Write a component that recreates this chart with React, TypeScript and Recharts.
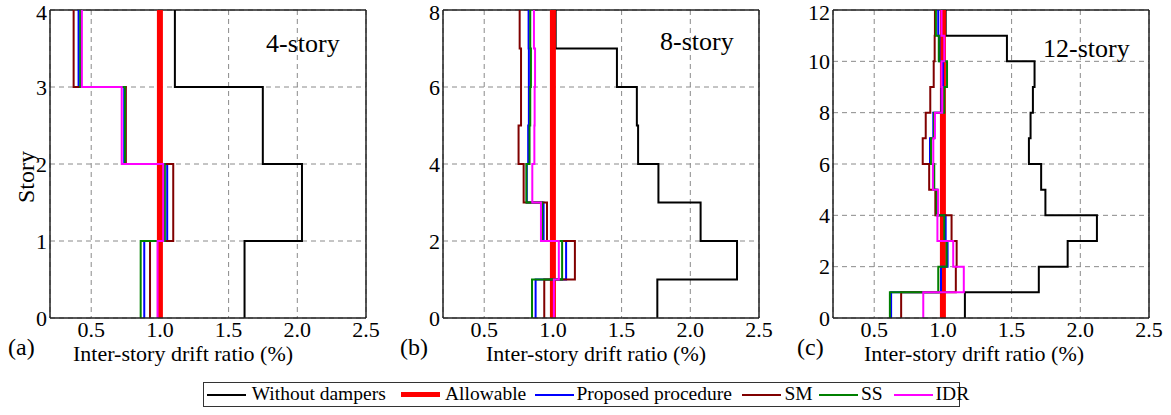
import React from "react";
import { LineChart, Line, XAxis, YAxis, CartesianGrid, ReferenceLine } from "recharts";

const FONT = '"Liberation Serif", "Times New Roman", serif';

const xTicks = [0.5, 1.0, 1.5, 2.0, 2.5];
const allowableRatio = 1.0;

// inter-story drift ratio (%), story 1 first
const without4 = [1.616, 2.034, 1.749, 1.109];
const proposed4 = [0.886, 1.053, 0.74, 0.408];
const sm4 = [0.928, 1.097, 0.752, 0.372];
const ss4 = [0.86, 1.036, 0.746, 0.42];
const idr4 = [0.983, 1.024, 0.722, 0.432];

const without8 = [1.76, 2.34, 2.075, 1.768, 1.62, 1.611, 1.466, 1.02];
const proposed8 = [0.874, 1.096, 0.932, 0.81, 0.82, 0.825, 0.825, 0.823];
const sm8 = [0.937, 1.16, 0.957, 0.787, 0.75, 0.768, 0.768, 0.758];
const ss8 = [0.848, 1.067, 0.922, 0.807, 0.83, 0.835, 0.84, 0.835];
const idr8 = [1.007, 1.043, 0.913, 0.85, 0.865, 0.867, 0.87, 0.862];

const without12 = [1.16, 1.698, 1.908, 2.121, 1.746, 1.715, 1.626, 1.638, 1.655, 1.667, 1.466, 1.02];
const proposed12 = [0.623, 0.986, 1.034, 1.02, 0.96, 0.93, 0.906, 0.93, 0.99, 1.0, 0.975, 0.966];
const sm12 = [0.696, 1.094, 1.1, 1.063, 0.945, 0.9, 0.853, 0.875, 0.908, 0.933, 0.94, 0.942];
const ss12 = [0.614, 0.966, 1.027, 1.01, 0.955, 0.937, 0.913, 0.935, 1.01, 1.03, 0.97, 0.949];
const idr12 = [0.857, 1.152, 1.075, 0.96, 0.965, 0.927, 0.93, 0.942, 0.995, 0.99, 1.01, 0.99];

const seriesNames = ["Without dampers", "Allowable", "Proposed procedure", "SM", "SS", "IDR"];
const seriesColors = ["#000000", "#ff0000", "#0000ff", "#800000", "#008000", "#ff00ff"];
const seriesWidths = [2, 6, 2, 2, 2, 2];

const panels = [
  { tag: "(a)", title: "4-story", yTicks: [0, 1, 2, 3, 4], series: [without4, proposed4, sm4, ss4, idr4] },
  { tag: "(b)", title: "8-story", yTicks: [0, 2, 4, 6, 8], series: [without8, proposed8, sm8, ss8, idr8] },
  { tag: "(c)", title: "12-story", yTicks: [0, 2, 4, 6, 8, 10, 12], series: [without12, proposed12, sm12, ss12, idr12] },
];

// layout (pixels)
const panelLeft = [0, 392.7, 782.7];
const titlePos = [{ left: 266, top: 31 }, { left: 660, top: 29 }, { left: 1043, top: 36 }];
const tagLeft = [8, 400, 797];
const xLabelLeft = [73, 486, 864];
const legendLineLeft = [206.7, 400.7, 535, 742.3, 819, 893.5];
const legendTextLeft = [251.7, 445, 576.5, 784.4, 861, 935.6];

// step table: floor k carries the drift of the story above it
function buildRows(arrs: number[][]) {
  const n = arrs[0].length;
  const all = [arrs[0], arrs[0].map(() => allowableRatio), ...arrs.slice(1)];
  const rows: any[] = [];
  for (let k = 0; k <= n; k++) {
    const i = Math.min(k, n - 1);
    const row: any = { story: k };
    all.forEach((a, j) => (row["s" + j] = a[i]));
    rows.push(row);
  }
  return rows;
}

const tickStyle = { fill: "#000", fontSize: 22, fontFamily: FONT };

// keep the top label inside the page
const YTick = (props: any) => {
  const { x, y, payload } = props;
  return (
    <text x={x} y={Math.max(y, 12)} dy="0.355em" textAnchor="end" fill="#000" fontSize={22} fontFamily={FONT}>
      {payload.value}
    </text>
  );
};

function Panel({ p, left }: { p: any; left: number }) {
  const n = p.series[0].length;
  const rows = buildRows(p.series);
  return (
    <div style={{ position: "absolute", left, top: 0 }}>
      <LineChart
        width={380}
        height={345}
        data={rows}
        layout="vertical"
        margin={{ top: 10, right: 14, bottom: 0, left: 5 }}
      >
        <CartesianGrid stroke="#8a8a8a" strokeDasharray="5 4" />
        <XAxis
          type="number"
          domain={[0.2, 2.5]}
          ticks={xTicks}
          interval={0}
          tickFormatter={(v: number) => v.toFixed(1)}
          tickLine={false}
          tickSize={0}
          tickMargin={3}
          height={27}
          axisLine={{ stroke: "#222", strokeWidth: 1.5 }}
          tick={tickStyle}
        />
        <YAxis
          type="number"
          dataKey="story"
          domain={[0, n]}
          ticks={p.yTicks}
          interval={0}
          reversed
          tickLine={false}
          tickSize={0}
          tickMargin={3}
          width={45}
          axisLine={{ stroke: "#222", strokeWidth: 1.5 }}
          tick={<YTick />}
        />
        <ReferenceLine y={n} stroke="#222" strokeWidth={1.5} />
        <ReferenceLine x={2.5} stroke="#222" strokeWidth={1.5} />
        {seriesNames.map((name, j) => (
          <Line
            key={name}
            name={name}
            type="stepBefore"
            dataKey={"s" + j}
            stroke={seriesColors[j]}
            strokeWidth={seriesWidths[j]}
            dot={false}
            activeDot={false}
            isAnimationActive={false}
          />
        ))}
      </LineChart>
    </div>
  );
}

export default function App() {
  return (
    <div
      style={{
        position: "absolute",
        left: 0,
        top: 0,
        width: 1171,
        height: 415,
        background: "#fff",
        fontFamily: FONT,
        color: "#000",
        overflow: "hidden",
      }}
    >
      {panels.map((p, i) => (
        <Panel key={p.tag} p={p} left={panelLeft[i]} />
      ))}

      {panels.map((p, i) => (
        <React.Fragment key={"t" + i}>
          <div style={{ position: "absolute", ...titlePos[i], fontSize: 26, lineHeight: 1, whiteSpace: "nowrap" }}>
            {p.title}
          </div>
          <div style={{ position: "absolute", left: tagLeft[i], top: 334.6, fontSize: 24, lineHeight: 1 }}>{p.tag}</div>
          <div
            style={{ position: "absolute", left: xLabelLeft[i], top: 343, fontSize: 22, lineHeight: 1, whiteSpace: "nowrap" }}
          >
            Inter-story drift ratio (%)
          </div>
        </React.Fragment>
      ))}

      <div
        style={{
          position: "absolute",
          left: 26,
          top: 177,
          transform: "translate(-50%, -50%) rotate(-90deg)",
          fontSize: 24,
          lineHeight: 1,
          whiteSpace: "nowrap",
        }}
      >
        Story
      </div>

      {/* Legend */}
      <div
        style={{
          position: "absolute",
          left: 202.7,
          top: 381.7,
          width: 757,
          height: 25.3,
          border: "1.5px solid #333",
          boxSizing: "border-box",
        }}
      />
      {seriesNames.map((name, j) => (
        <React.Fragment key={"l" + j}>
          <div
            style={{
              position: "absolute",
              left: legendLineLeft[j],
              top: 394.7 - seriesWidths[j] / 2,
              width: 39,
              height: seriesWidths[j] === 6 ? 5 : 2,
              background: seriesColors[j],
            }}
          />
          <div
            style={{
              position: "absolute",
              left: legendTextLeft[j],
              top: 383.7,
              fontSize: 19.5,
              lineHeight: 1,
              whiteSpace: "nowrap",
            }}
          >
            {name}
          </div>
        </React.Fragment>
      ))}
    </div>
  );
}
